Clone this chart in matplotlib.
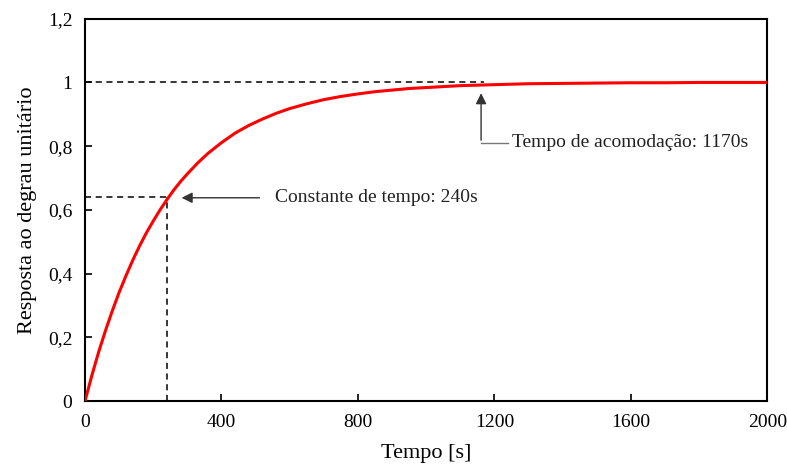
import numpy as np
import matplotlib.pyplot as plt

plt.rcParams['font.family'] = ['Liberation Serif', 'DejaVu Serif']

# step response
tempo = [0, 20, 40, 60, 80, 100, 120, 140, 160, 180, 200, 220, 240, 260, 280, 300,
         330, 360, 400, 440, 480, 520, 560, 600, 650, 700, 750, 800, 850, 900,
         950, 1000, 1100, 1200, 1300, 1400, 1500, 1600, 1700, 1800, 1900, 2000]
resposta = [0.0, 0.080, 0.154, 0.221, 0.283, 0.341, 0.393, 0.442, 0.487, 0.528,
            0.565, 0.600, 0.632, 0.662, 0.689, 0.713, 0.747, 0.777, 0.811, 0.841,
            0.865, 0.885, 0.903, 0.918, 0.933, 0.946, 0.956, 0.964, 0.971, 0.976,
            0.981, 0.984, 0.990, 0.993, 0.996, 0.997, 0.998, 0.999, 0.999, 1.0, 1.0, 1.0]

tau, y_tau = 240, 0.64
t_acom, y_acom = 1170, 1.0

fig, ax = plt.subplots(figsize=(7.87, 4.68), dpi=100)
fig.subplots_adjust(left=0.108, right=0.975, top=0.96, bottom=0.143)

ax.plot(tempo, resposta, color='red', lw=2.2, zorder=3)

ax.plot([0, tau], [y_tau, y_tau], 'k--', lw=1.1, dashes=(4, 3))
ax.plot([tau, tau], [0, y_tau], 'k--', lw=1.1, dashes=(4, 3))
ax.plot([0, t_acom], [y_acom, y_acom], 'k--', lw=1.1, dashes=(4, 3))

ax.annotate('', xy=(275, 0.638), xytext=(520, 0.638),
            arrowprops=dict(arrowstyle='-|>', color='#333333', lw=1, mutation_scale=16))
ax.text(557, 0.638, 'Constante de tempo: 240s', fontsize=14, va='center', color='#222222')

ax.annotate('', xy=(1161, 0.975), xytext=(1161, 0.81),
            arrowprops=dict(arrowstyle='-|>', color='#333333', lw=1, mutation_scale=16))
ax.plot([1161, 1240], [0.81, 0.81], color='#777777', lw=1)
ax.text(1252, 0.81, 'Tempo de acomodação: 1170s', fontsize=14, va='center', color='#222222')

ax.set_xlim(0, 2000)
ax.set_ylim(0, 1.2)
ax.set_xticks([0, 400, 800, 1200, 1600, 2000])
ax.set_yticks([0, 0.2, 0.4, 0.6, 0.8, 1.0, 1.2])
ax.set_yticklabels(['0', '0,2', '0,4', '0,6', '0,8', '1', '1,2'])
ax.tick_params(direction='in', length=5, width=1.2, labelsize=14, pad=9)
for s in ax.spines.values():
    s.set_linewidth(1.5)

ax.set_xlabel('Tempo [s]', fontsize=16, labelpad=10)
ax.set_ylabel('Resposta ao degrau unitário', fontsize=16, labelpad=8)

fig.savefig('out.png')
